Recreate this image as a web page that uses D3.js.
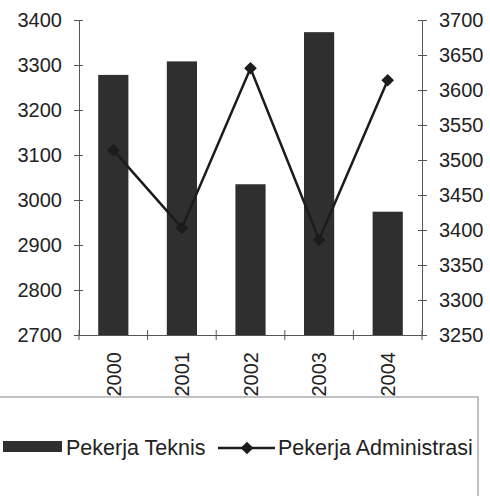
<!DOCTYPE html>
<html><head><meta charset="utf-8">
<script src="https://cdn.jsdelivr.net/npm/d3@7"></script>
<style>
html,body{margin:0;padding:0;background:#fff;}
svg{display:block;font-family:"Liberation Sans",Arial,sans-serif;}
</style></head>
<body><svg id="c" width="490" height="496"></svg>
<script>
const years = ["2000","2001","2002","2003","2004"];
const teknis = [3278, 3308, 3035, 3373, 2974];
const administrasi = [3514, 3403, 3631, 3386, 3614];
const leftTicks = [2700,2800,2900,3000,3100,3200,3300,3400];
const rightTicks = [3250,3300,3350,3400,3450,3500,3550,3600,3650,3700];
const seriesNames = ["Pekerja Teknis","Pekerja Administrasi"];

const svg = d3.select("#c");
const L = 79, R = 422, T = 20, B = 335;
const barColor = "#2f2f2f", lineColor = "#1c1c1c", axisColor = "#555", textColor = "#222";

const x = d3.scaleBand().domain(years).range([L, R]).paddingInner(0.56).paddingOuter(0.28);
const yL = d3.scaleLinear().domain([2700, 3400]).range([B, T]);
const yR = d3.scaleLinear().domain([3250, 3700]).range([B, T]);

// bars
svg.append("g").selectAll("rect").data(years).join("rect")
  .attr("x", d => x(d)).attr("width", x.bandwidth())
  .attr("y", (d,i) => yL(teknis[i])).attr("height", (d,i) => B - yL(teknis[i]))
  .attr("fill", barColor);

// left axis
const gl = svg.append("g").attr("transform", `translate(${L},0)`)
  .call(d3.axisLeft(yL).tickValues(leftTicks).tickSize(4).tickSizeOuter(0).tickPadding(13).tickFormat(d3.format("d")));
gl.selectAll(".tick line").attr("x1", 4).attr("x2", -5);
// right axis
const gr = svg.append("g").attr("transform", `translate(${R},0)`)
  .call(d3.axisRight(yR).tickValues(rightTicks).tickSize(4).tickSizeOuter(0).tickPadding(13).tickFormat(d3.format("d")));
gr.selectAll(".tick line").attr("x1", -4).attr("x2", 5);
[gl, gr].forEach(g => {
  g.selectAll("path.domain").attr("stroke", axisColor);
  g.selectAll(".tick line").attr("stroke", axisColor);
  g.selectAll("text").attr("font-size", 20).attr("fill", textColor).attr("font-family", "Liberation Sans, Arial, sans-serif");
});

// bottom axis
const gb = svg.append("g").attr("transform", `translate(0,${B})`)
  .call(d3.axisBottom(x).tickSize(0).tickSizeOuter(0).tickFormat(""));
gb.select("path.domain").attr("stroke", axisColor);
const half = x.step() * x.paddingInner() / 2;
const bounds = years.map(d => x(d) - half).concat([x(years[years.length-1]) + x.bandwidth() + half]);
gb.selectAll("line.bt").data(bounds).join("line").attr("class","bt")
  .attr("x1", d => d).attr("x2", d => d).attr("y1", -5).attr("y2", 5).attr("stroke", axisColor);
gb.selectAll("text.xl").data(years).join("text").attr("class","xl")
  .attr("transform", d => `translate(${x(d) + x.bandwidth()/2},17) rotate(-90)`)
  .attr("text-anchor", "end").attr("dy", "0.36em")
  .attr("font-size", 20).attr("fill", textColor).text(d => d);

// line series
const pts = years.map((d,i) => [x(d) + x.bandwidth()/2, yR(administrasi[i])]);
svg.append("path").datum(pts).attr("d", d3.line())
  .attr("fill", "none").attr("stroke", lineColor).attr("stroke-width", 2.5);
const diamond = d3.symbol().type(d3.symbolSquare).size(80);
svg.append("g").selectAll("path").data(pts).join("path")
  .attr("d", diamond).attr("transform", d => `translate(${d[0]},${d[1]}) rotate(45)`)
  .attr("fill", lineColor);

// legend box
const lg = svg.append("g");
lg.append("rect").attr("x", -5).attr("y", 397).attr("width", 483).attr("height", 120)
  .attr("fill", "#fff").attr("stroke", "#999").attr("stroke-width", 1.2);
lg.append("rect").attr("x", 3).attr("y", 441).attr("width", 59).attr("height", 11).attr("fill", barColor);
lg.append("text").attr("x", 66).attr("y", 455).attr("font-size", 21.5).attr("fill", textColor).text(seriesNames[0]);
lg.append("line").attr("x1", 218).attr("x2", 275).attr("y1", 448).attr("y2", 448)
  .attr("stroke", lineColor).attr("stroke-width", 2.5);
lg.append("path").attr("d", diamond).attr("transform", "translate(247,448) rotate(45)").attr("fill", lineColor);
lg.append("text").attr("x", 278).attr("y", 455).attr("font-size", 21.5).attr("fill", textColor).text(seriesNames[1]);
</script></body></html>
